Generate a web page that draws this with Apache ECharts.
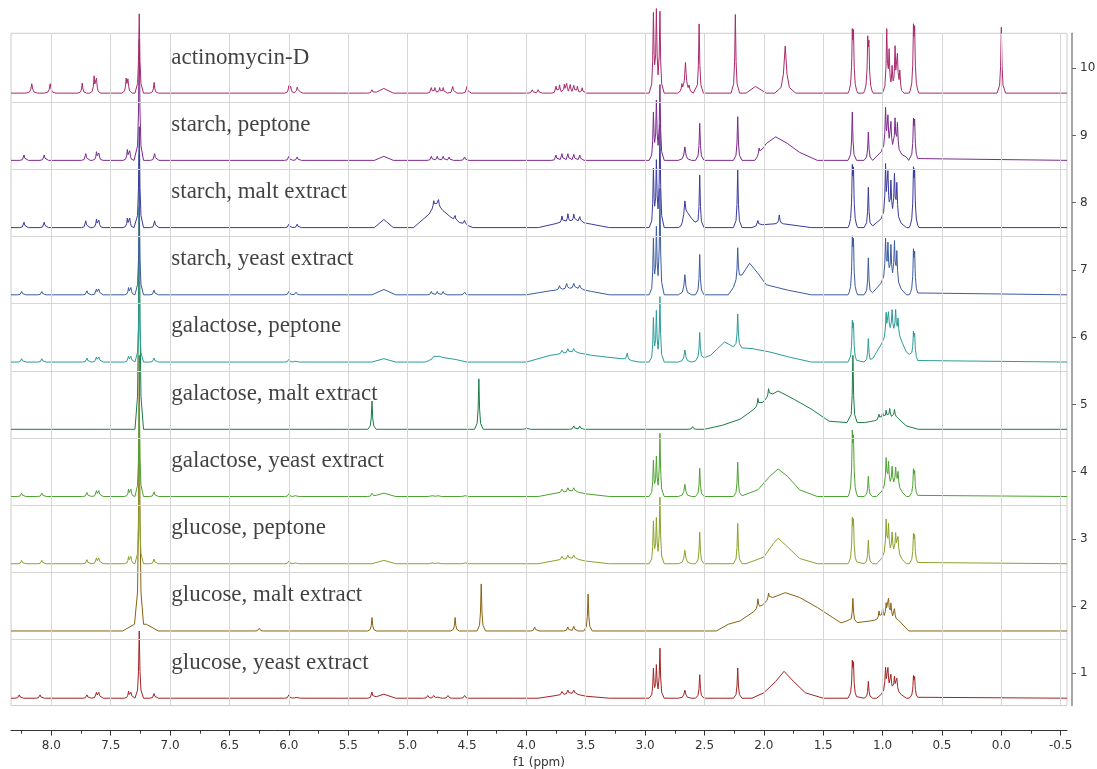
<!DOCTYPE html>
<html><head><meta charset="utf-8">
<script src="https://cdn.jsdelivr.net/npm/echarts@6/dist/echarts.min.js"></script>
<style>html,body{margin:0;padding:0;background:#fff}#c{width:1097px;height:769px}</style>
</head><body><div id="c"></div>
<script>
// ---------------- DATA ----------------
// sample names, bottom (1) to top (10)
const sampleNames = ['glucose, yeast extract','glucose, malt extract','glucose, peptone','galactose, yeast extract','galactose, malt extract','galactose, peptone','starch, yeast extract','starch, malt extract','starch, peptone','actinomycin-D'];
const xMajorTicks = [8.0,7.5,7.0,6.5,6.0,5.5,5.0,4.5,4.0,3.5,3.0,2.5,2.0,1.5,1.0,0.5,0.0,-0.5];
const xMinorTicks = [8.25,7.75,7.25,6.75,6.25,5.75,5.25,4.75,4.25,3.75,3.25,2.75,2.25,1.75,1.25,0.75,0.25,-0.25];
const yTicks = [1,2,3,4,5,6,7,8,9,10];

// peaks: [ppm, height (in trace units), optional half-width ppm]; humps: polylines [ppm, height]
const peaks1 = [[8.27,0.05],[8.095,0.05],[7.7,0.05],[7.62,0.08],[7.6,0.08],[7.35,0.1],[7.33,0.08],[7.26,1.0],[7.135,0.07],[6.0,0.05],[5.94,0.03],[5.3,0.09],[4.83,0.04],[4.78,0.04],[4.74,0.04],[4.66,0.04],[4.52,0.04],[3.7,0.05],[3.65,0.06],[3.6,0.05],
 [2.93,0.42],[2.905,0.45],[2.875,0.73],[2.665,0.12,0.014],[2.54,0.35],[2.22,0.45],[1.255,0.45],[1.245,0.42],[1.12,0.25],[0.975,0.32],[0.955,0.3],[0.93,0.22],[0.9,0.2],[0.88,0.18],[0.74,0.27],[0.73,0.25]];
const humps1 = [[[5.3,0],[5.2,0.06],[5.1,0]],[[3.9,0],[3.75,0.04],[3.6,0.07],[3.5,0.03],[3.3,0]],[[2.1,0],[2.0,0.08],[1.9,0.25],[1.83,0.4],[1.75,0.25],[1.65,0.08],[1.5,0]],[[1.05,0],[0.97,0.12],[0.88,0.1],[0.8,0]]];

const peaks2 = [[7.26,4.0],[6.25,0.04],[5.3,0.2],[4.6,0.2],[4.38,0.7],[3.93,0.06],[3.65,0.06],[3.6,0.07],[3.48,0.55],[2.05,0.15],[1.96,0.1],[1.25,0.35],[1.03,0.12],[1.0,0.15],[0.97,0.2],[0.95,0.25],[0.93,0.2],[0.9,0.15]];
const humps2 = [[[7.4,0],[7.3,0.1],[7.2,0.1],[7.1,0]],[[2.4,0],[2.3,0.1],[2.2,0.15],[2.05,0.33],[1.95,0.48],[1.82,0.57],[1.7,0.5],[1.55,0.35],[1.42,0.2],[1.35,0.12],[1.3,0.15],[1.2,0.12],[1.1,0.15],[0.95,0.2],[0.85,0.15],[0.78,0]]];

const peaks3 = [[8.25,0.05],[8.08,0.05],[7.7,0.06],[7.62,0.08],[7.6,0.08],[7.35,0.1],[7.33,0.1],[7.26,1.3],[7.135,0.07],[6.0,0.04],[5.94,0.03],[4.8,0.03],[4.75,0.03],[4.52,0.03],[3.7,0.05],[3.65,0.06],[3.6,0.05],
 [2.93,0.6],[2.905,0.62],[2.875,0.97],[2.665,0.2,0.014],[2.54,0.47],[2.22,0.6],[1.255,0.55],[1.245,0.52],[1.12,0.35],[0.97,0.48],[0.95,0.4],[0.92,0.3],[0.89,0.28],[0.87,0.25],[0.74,0.36],[0.73,0.34]];
const humps3 = [[[5.3,0],[5.2,0.05],[5.1,0]],[[3.9,0],[3.75,0.05],[3.6,0.08],[3.5,0.04],[3.3,0]],[[2.15,0],[2.0,0.1],[1.92,0.3],[1.88,0.38],[1.8,0.25],[1.7,0.08],[1.55,0]],[[1.05,0],[0.97,0.15],[0.88,0.15],[0.8,0]]];

const peaks4 = [[8.25,0.05],[8.08,0.05],[7.7,0.06],[7.62,0.08],[7.6,0.08],[7.35,0.1],[7.33,0.1],[7.26,1.4],[7.135,0.07],[6.0,0.04],[5.94,0.03],[5.3,0.05],[4.8,0.03],[4.75,0.03],[4.52,0.03],[3.7,0.05],[3.65,0.06],[3.6,0.05],
 [2.93,0.51],[2.905,0.54],[2.875,0.92],[2.665,0.18,0.014],[2.54,0.42],[2.22,0.51],[1.255,0.8],[1.245,0.7],[1.12,0.3],[0.97,0.4],[0.95,0.33],[0.92,0.28],[0.89,0.26],[0.87,0.22],[0.74,0.33],[0.73,0.3]];
const humps4 = [[[5.3,0],[5.2,0.05],[5.1,0]],[[3.9,0],[3.75,0.05],[3.6,0.08],[3.5,0.04],[3.3,0]],[[2.2,0],[2.05,0.1],[1.95,0.3],[1.88,0.41],[1.8,0.3],[1.7,0.1],[1.55,0]],[[1.05,0],[0.97,0.15],[0.88,0.15],[0.8,0]]];

const peaks5 = [[7.26,4.1],[5.3,0.42],[4.4,0.75],[4.0,0.03],[3.6,0.05],[3.55,0.05],[2.6,0.04],[2.05,0.12],[1.96,0.12],[1.25,1.0],[1.03,0.08],[1.0,0.1],[0.97,0.12],[0.94,0.14],[0.9,0.12]];
const humps5 = [[[2.5,0],[2.35,0.06],[2.2,0.15],[2.05,0.34],[1.95,0.5],[1.88,0.57],[1.75,0.45],[1.6,0.3],[1.45,0.12],[1.3,0.1],[1.15,0.1],[1.0,0.15],[0.88,0.18],[0.8,0.05],[0.7,0]]];

const peaks6 = [[8.25,0.05],[8.08,0.05],[7.7,0.06],[7.62,0.07],[7.6,0.07],[7.35,0.08],[7.33,0.08],[7.26,1.2],[7.135,0.06],[6.0,0.04],[5.94,0.03],[4.78,0.03],[4.74,0.03],[3.7,0.05],[3.65,0.06],[3.6,0.05],[3.15,0.1],
 [2.93,0.62],[2.905,0.7],[2.875,0.95],[2.665,0.18,0.014],[2.54,0.4],[2.22,0.5],[1.255,0.5],[1.245,0.45],[1.12,0.35],[0.97,0.35],[0.95,0.3],[0.92,0.32],[0.89,0.35],[0.87,0.25],[0.74,0.32],[0.73,0.3]];
const humps6 = [[[5.3,0],[5.2,0.05],[5.1,0]],[[4.85,0],[4.75,0.08],[4.6,0.04],[4.5,0]],[[4.0,0],[3.8,0.1],[3.6,0.15],[3.45,0.1],[3.2,0.05],[3.05,0]],[[2.6,0],[2.45,0.1],[2.33,0.3],[2.25,0.22],[2.1,0.2],[1.95,0.15],[1.8,0.08],[1.6,0]],[[1.1,0],[1.0,0.3],[0.93,0.45],[0.85,0.35],[0.8,0.15],[0.7,0]]];

const peaks7 = [[8.25,0.05],[8.08,0.05],[7.7,0.06],[7.62,0.08],[7.6,0.08],[7.35,0.1],[7.33,0.1],[7.26,1.3],[7.135,0.07],[6.0,0.05],[5.94,0.04],[4.8,0.05],[4.75,0.05],[4.7,0.05],[4.52,0.04],[3.72,0.06],[3.66,0.08],[3.6,0.07],[3.55,0.06],
 [2.93,0.79],[2.905,0.92],[2.875,1.55],[2.665,0.3,0.014],[2.54,0.6],[2.22,0.5],[1.255,0.7],[1.245,0.65],[1.12,0.55],[0.975,0.6],[0.955,0.5],[0.93,0.5],[0.9,0.55],[0.88,0.45],[0.74,0.55],[0.73,0.5]];
const humps7 = [[[5.3,0],[5.2,0.08],[5.1,0]],[[4.0,0],[3.8,0.06],[3.6,0.1],[3.45,0.05],[3.3,0]],[[2.3,0],[2.2,0.25],[2.12,0.47],[2.05,0.32],[1.98,0.15],[1.8,0.07],[1.6,0]],[[1.1,0],[1.0,0.2],[0.9,0.2],[0.8,0]]];

const peaks8 = [[8.23,0.08],[8.06,0.08],[7.71,0.1],[7.62,0.12],[7.6,0.1],[7.36,0.13],[7.34,0.13],[7.26,1.5],[7.13,0.1],[6.0,0.05],[5.93,0.05],[4.78,0.1],[4.74,0.1],[4.6,0.08],[4.52,0.06],[3.7,0.1],[3.65,0.12],[3.6,0.1],[3.55,0.08],
 [2.93,0.83],[2.905,0.91],[2.875,1.5],[2.665,0.28,0.014],[2.54,0.78],[2.22,0.86],[2.05,0.08],[1.87,0.13],[1.255,0.75],[1.245,0.7],[1.12,0.6],[0.975,0.75],[0.955,0.6],[0.93,0.5],[0.9,0.6],[0.88,0.5],[0.74,0.72],[0.73,0.68]];
const humps8 = [[[5.28,0],[5.2,0.12],[5.12,0]],[[4.95,0],[4.82,0.2],[4.76,0.35],[4.7,0.25],[4.6,0.1],[4.45,0]],[[3.9,0],[3.75,0.06],[3.6,0.1],[3.45,0.05],[3.3,0]],[[2.7,0],[2.64,0.2],[2.58,0.08],[2.55,0]],[[2.1,0],[2.0,0.05],[1.85,0.06],[1.6,0]],[[1.1,0],[1.0,0.15],[0.9,0.15],[0.8,0]]];

const peaks9 = [[8.23,0.08],[8.06,0.08],[7.71,0.1],[7.62,0.12],[7.6,0.1],[7.36,0.15],[7.34,0.13],[7.26,1.8],[7.13,0.1],[6.0,0.06],[5.93,0.05],[4.8,0.06],[4.75,0.06],[4.7,0.06],[4.65,0.05],[4.52,0.05],[3.75,0.08],[3.7,0.1],[3.65,0.1],[3.6,0.09],[3.55,0.08],
 [2.93,0.67],[2.905,0.82],[2.875,1.1],[2.665,0.2,0.014],[2.54,0.55],[2.22,0.65],[2.04,0.1],[1.255,0.72],[1.12,0.42],[0.975,0.6],[0.955,0.45],[0.93,0.4],[0.895,0.45],[0.875,0.4],[0.74,0.5],[0.73,0.48]];
const humps9 = [[[5.28,0],[5.2,0.06],[5.12,0]],[[2.07,0],[1.98,0.25],[1.9,0.35],[1.8,0.25],[1.7,0.12],[1.55,0]],[[1.08,0],[1.0,0.15],[0.9,0.15],[0.8,0.05],[0.78,0]]];

const peaks10 = [[8.165,0.14,0.012],[8.01,0.14,0.012],[7.74,0.15],[7.64,0.24],[7.62,0.2],[7.37,0.2],[7.355,0.2],[7.26,1.18],[7.135,0.16],[6.0,0.1],[5.985,0.1],[5.93,0.08],[5.915,0.08],[5.3,0.05],[4.8,0.08],[4.77,0.08],[4.73,0.08],[4.7,0.08],[4.62,0.1],[4.5,0.1],[3.95,0.05],[3.9,0.05],[3.75,0.1],[3.72,0.12],[3.68,0.12],[3.66,0.13],[3.63,0.12],[3.6,0.11],[3.57,0.1],[3.53,0.08],
 [2.93,1.13],[2.905,1.15],[2.875,1.18],[2.69,0.1],[2.66,0.45,0.014],[2.63,0.08],[2.545,1.03],[2.24,1.17],[1.82,0.7,0.022],[1.255,0.76],[1.245,0.74],[1.125,0.69],[1.115,0.6],[0.965,0.91],[0.945,0.56],[0.92,0.34],[0.895,0.64],[0.875,0.51],[0.855,0.3],[0.74,0.82],[0.73,0.78],[0.0,0.98]];
const humps10 = [[[5.28,0],[5.2,0.07],[5.12,0]],[[2.15,0],[2.07,0.1],[1.98,0]]];

const traceColors = ['#a12424','#8a6212','#8aa32c','#4ea232','#1b7c48','#2a9c98','#3c5ca0','#3a3a9e','#7a2a8c','#a82a6c'];
const peakSets = [peaks1,peaks2,peaks3,peaks4,peaks5,peaks6,peaks7,peaks8,peaks9,peaks10];
const humpSets = [humps1,humps2,humps3,humps4,humps5,humps6,humps7,humps8,humps9,humps10];

// ---------------- BUILD ----------------
const XMIN = -0.553, XMAX = 8.34, BASE_OFFSET = -0.37, HW = 0.009;
const SHAPE = [[-4,0],[-1.6,0.12],[-0.7,0.4],[0,1],[0.7,0.4],[1.6,0.12],[4,0]];
function pl(pts, x){
  for (let i=0;i<pts.length-1;i++){
    const a=pts[i], b=pts[i+1];
    if (x<=a[0] && x>=b[0]) { const t=(a[0]===b[0])?0:(a[0]-x)/(a[0]-b[0]); return a[1]+(b[1]-a[1])*t; }
  }
  return 0;
}
function buildTrace(peaks, humps, base){
  const xs = new Set([XMIN, XMAX]);
  const shapes = peaks.map(p => { const w=p[2]||HW; return SHAPE.map(s=>[+(p[0]-s[0]*w).toFixed(5), s[1]*p[1]]); });
  shapes.forEach(s=>s.forEach(pt=>xs.add(pt[0])));
  humps.forEach(h=>h.forEach(pt=>xs.add(pt[0])));
  const arr = [...xs].sort((a,b)=>b-a);
  return arr.map(x => {
    let v=0; shapes.forEach(s=>v+=pl(s,x)); humps.forEach(h=>v+=pl(h,x));
    return [x, base+v];
  });
}

const series = [];
for (let i=0;i<10;i++){
  const base = (i+1)+BASE_OFFSET;
  series.push({type:'line', name:sampleNames[i], data:buildTrace(peakSets[i],humpSets[i],base), showSymbol:false, symbol:'none', clip:false, z:3,
    lineStyle:{width:1, color:traceColors[i]}, itemStyle:{color:traceColors[i]}, animation:false});
}
series.push({type:'scatter', symbolSize:0, silent:true, animation:false, z:5,
  data: sampleNames.map((n,i)=>({value:[6.99,(i+1)+0.16], name:n})),
  label:{show:true, position:'right', distance:0, formatter:p=>p.name, fontFamily:'Liberation Serif', fontSize:23, color:'#111'}});
series.push({type:'line', data:[], silent:true, animation:false, z:1,
  markLine:{silent:true, symbol:'none', label:{show:false}, animation:false,
    lineStyle:{color:'#d6d6d6', width:1, type:'solid'},
    data: xMajorTicks.map(v=>({xAxis:v})).concat([1.5,2.5,3.5,4.5,5.5,6.5,7.5,8.5,9.5].map(v=>({yAxis:v})))}});

const chart = echarts.init(document.getElementById('c'), null, {renderer:'canvas'});
chart.setOption({
  backgroundColor:'#ffffff',
  animation:false,
  grid:{left:11, right:30, top:33.3, bottom:63.4, show:true, borderColor:'#cccccc', borderWidth:1, backgroundColor:'transparent', containLabel:false, outerBoundsMode:'none'},
  xAxis:[{type:'value', inverse:true, min:XMIN, max:XMAX, position:'bottom', offset:25,
    axisLine:{show:true, onZero:false, lineStyle:{color:'#333', width:1}},
    axisTick:{show:true, customValues:xMajorTicks, length:5, lineStyle:{color:'#333'}},
    axisLabel:{customValues:xMajorTicks, formatter:v=>v.toFixed(1), color:'#333', fontSize:12, fontFamily:'DejaVu Sans', margin:9},
    splitLine:{show:false},
    name:'f1 (ppm)', nameLocation:'middle', nameGap:25, nameTextStyle:{color:'#333', fontSize:12, fontFamily:'DejaVu Sans'}},
   {type:'value', inverse:true, min:XMIN, max:XMAX, position:'bottom', offset:25,
    axisLine:{show:false, onZero:false}, axisTick:{show:true, customValues:xMinorTicks, length:3, lineStyle:{color:'#333'}},
    axisLabel:{show:false}, splitLine:{show:false}}],
  yAxis:{type:'value', position:'right', offset:5, min:0.52, max:10.52,
    axisLine:{show:true, onZero:false, lineStyle:{color:'#888', width:1.5}},
    axisTick:{show:true, customValues:yTicks, length:4, lineStyle:{color:'#666'}},
    axisLabel:{customValues:yTicks, color:'#333', fontSize:12, fontFamily:'DejaVu Sans', margin:8},
    splitLine:{show:false}},
  series: series
});
</script></body></html>
